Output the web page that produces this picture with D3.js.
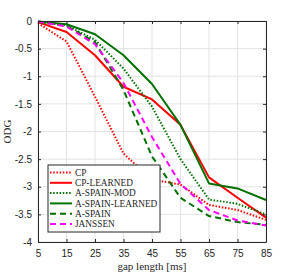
<!DOCTYPE html>
<html>
<head>
<meta charset="utf-8">
<script src="https://cdn.jsdelivr.net/npm/d3@7"></script>
<style>
  body { margin: 0; background: #fff; }
  svg { display: block; }
</style>
</head>
<body>
<div id="chart"></div>
<script>
// values
var gapLengths = [5, 15, 25, 35, 45, 55, 65, 75, 85];
var cp = [-0.04, -0.37, -1.37, -2.4, -2.87, -2.96, -3.33, -3.42, -3.6];
var cpLearned = [-0.02, -0.2, -0.62, -1.19, -1.42, -1.88, -2.83, -3.2, -3.56];
var aSpainMod = [-0.02, -0.08, -0.34, -0.86, -1.55, -2.5, -3.23, -3.31, -3.5];
var aSpainLearned = [-0.01, -0.06, -0.24, -0.62, -1.14, -1.88, -2.94, -3.03, -3.24];
var aSpain = [-0.01, -0.09, -0.38, -1.25, -2.45, -3.2, -3.53, -3.64, -3.69];
var janssen = [-0.01, -0.1, -0.42, -1.12, -2.1, -2.95, -3.42, -3.61, -3.7];

var seriesNames = ["CP", "CP-LEARNED", "A-SPAIN-MOD", "A-SPAIN-LEARNED", "A-SPAIN", "JANSSEN"];
var seriesValues = [cp, cpLearned, aSpainMod, aSpainLearned, aSpain, janssen];

var xTicks = [5, 15, 25, 35, 45, 55, 65, 75, 85];
var yTicks = [0, -0.5, -1, -1.5, -2, -2.5, -3, -3.5, -4];

var width = 294, height = 273;
var margin = { top: 21, right: 28, bottom: 31, left: 38 };

// line styles per series
var styles = [
    { color: "#ff0000", dash: "1.5,1.7", w: 2 },
    { color: "#ff0000", dash: null, w: 2 },
    { color: "#007000", dash: "1.5,1.7", w: 2 },
    { color: "#007000", dash: null, w: 2 },
    { color: "#007000", dash: "6,4", w: 2 },
    { color: "#ff00ff", dash: "6,4", w: 2 }
];

var serif = "'Liberation Serif', 'Times New Roman', serif";
var sans = "'Liberation Sans', Arial, sans-serif";
var axisColor = "#262626";

var svg = d3.select("#chart")
    .append("svg")
    .attr("width", width)
    .attr("height", height);

var x = d3.scaleLinear().domain([5, 85]).range([margin.left, width - margin.right]);
var y = d3.scaleLinear().domain([-4, 0]).range([height - margin.bottom, margin.top]);

// grid
var grid = svg.append("g");
grid.selectAll("line.gx")
    .data(xTicks)
    .enter().append("line")
    .attr("class", "gx")
    .attr("x1", d => x(d)).attr("x2", d => x(d))
    .attr("y1", y(0)).attr("y2", y(-4))
    .attr("stroke", "#e3e3e3").attr("stroke-width", 1);
grid.selectAll("line.gy")
    .data(yTicks)
    .enter().append("line")
    .attr("class", "gy")
    .attr("y1", d => y(d)).attr("y2", d => y(d))
    .attr("x1", x(5)).attr("x2", x(85))
    .attr("stroke", "#e3e3e3").attr("stroke-width", 1);

// lines
var line = d3.line()
    .x((d, i) => x(gapLengths[i]))
    .y(d => y(d));

svg.append("g")
    .selectAll("path")
    .data(seriesValues)
    .enter().append("path")
    .attr("d", d => line(d))
    .attr("fill", "none")
    .attr("stroke", (d, i) => styles[i].color)
    .attr("stroke-width", (d, i) => styles[i].w)
    .attr("stroke-dasharray", (d, i) => styles[i].dash)
    .attr("stroke-linejoin", "round");

// axes, ticks inward on all four sides
var axBottom = svg.append("g")
    .attr("transform", "translate(0," + y(-4) + ")")
    .call(d3.axisBottom(x).tickValues(xTicks).tickSizeInner(-3).tickSizeOuter(0).tickPadding(8));
var axTop = svg.append("g")
    .attr("transform", "translate(0," + y(0) + ")")
    .call(d3.axisTop(x).tickValues(xTicks).tickSizeInner(-3).tickSizeOuter(0).tickFormat(""));
var axLeft = svg.append("g")
    .attr("transform", "translate(" + x(5) + ",0)")
    .call(d3.axisLeft(y).tickValues(yTicks).tickSizeInner(-3).tickSizeOuter(0).tickPadding(6)
        .tickFormat(d => String(d)));
var axRight = svg.append("g")
    .attr("transform", "translate(" + x(85) + ",0)")
    .call(d3.axisRight(y).tickValues(yTicks).tickSizeInner(-3).tickSizeOuter(0).tickFormat(""));

[axBottom, axTop, axLeft, axRight].forEach(function (g) {
    g.select(".domain").attr("stroke", axisColor).attr("stroke-width", 1);
    g.selectAll(".tick line").attr("stroke", axisColor);
    g.selectAll("text")
        .attr("fill", axisColor)
        .style("font-family", sans)
        .style("font-size", "10px");
});

// axis titles
svg.append("text")
    .attr("x", (x(5) + x(85)) / 2)
    .attr("y", 270)
    .attr("text-anchor", "middle")
    .style("font-family", serif)
    .style("font-size", "11px")
    .attr("fill", axisColor)
    .text("gap length [ms]");

svg.append("text")
    .attr("transform", "translate(11," + (y(0) + y(-4)) / 2 + ") rotate(-90)")
    .attr("text-anchor", "middle")
    .style("font-family", serif)
    .style("font-size", "11px")
    .attr("fill", axisColor)
    .text("ODG");

// legend
var legend = svg.append("g").attr("transform", "translate(48,165)");
legend.append("rect")
    .attr("width", 112).attr("height", 67)
    .attr("fill", "#fff")
    .attr("stroke", axisColor).attr("stroke-width", 1);

var item = legend.selectAll("g.item")
    .data(seriesNames)
    .enter().append("g")
    .attr("class", "item")
    .attr("transform", (d, i) => "translate(0," + (7.5 + i * 10.3) + ")");

item.append("line")
    .attr("x1", 2).attr("x2", 24)
    .attr("stroke", (d, i) => styles[i].color)
    .attr("stroke-width", (d, i) => styles[i].w)
    .attr("stroke-dasharray", (d, i) => styles[i].dash);

item.append("text")
    .attr("x", 27)
    .attr("dy", "0.35em")
    .style("font-family", serif)
    .style("font-size", "9.3px")
    .attr("fill", axisColor)
    .text(d => d);
</script>
</body>
</html>
